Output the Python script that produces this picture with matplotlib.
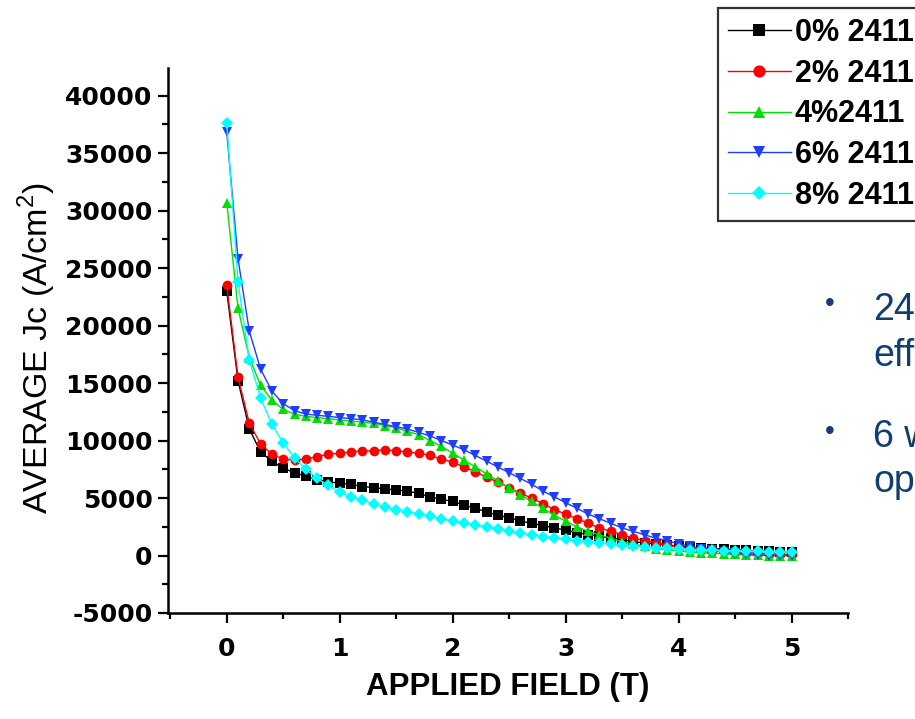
import numpy as np
import matplotlib
matplotlib.use("Agg")
import matplotlib.pyplot as plt
from matplotlib.ticker import MultipleLocator

# ---- data ----
field = [round(0.1 * i, 1) for i in range(51)]

jc_0 = [23000, 15200, 11000, 9000, 8200, 7600, 7200, 6900, 6600, 6400,
        6300, 6200, 6000, 5900, 5800, 5700, 5600, 5400, 5100, 4900,
        4700, 4400, 4100, 3800, 3500, 3300, 3000, 2800, 2600, 2400,
        2200, 2000, 1800, 1700, 1500, 1400, 1200, 1100, 1000, 900,
        800, 700, 650, 600, 550, 500, 450, 400, 350, 300, 300]
jc_2 = [23500, 15500, 11500, 9700, 8800, 8400, 8300, 8400, 8600, 8800,
        8900, 9000, 9100, 9100, 9200, 9100, 9000, 8900, 8700, 8400,
        8100, 7700, 7300, 6800, 6400, 5900, 5400, 5000, 4500, 4000,
        3600, 3200, 2800, 2400, 2100, 1800, 1500, 1300, 1100, 900,
        700, 600, 500, 400, 350, 300, 250, 200, 150, 100, 100]
jc_4 = [30700, 21500, 17200, 14800, 13500, 12700, 12300, 12100, 12000, 11900,
        11800, 11700, 11600, 11500, 11300, 11100, 10800, 10500, 10000, 9500,
        8900, 8300, 7700, 7100, 6500, 5900, 5300, 4700, 4100, 3500,
        3000, 2500, 2100, 1800, 1500, 1200, 1000, 800, 600, 500,
        400, 300, 250, 200, 150, 100, 50, 50, 0, 0, 0]
jc_6 = [36800, 25800, 19500, 16200, 14300, 13200, 12600, 12300, 12200, 12100,
        12000, 11900, 11800, 11600, 11400, 11200, 11000, 10700, 10400, 10000,
        9600, 9200, 8700, 8200, 7700, 7200, 6700, 6200, 5600, 5100,
        4600, 4100, 3600, 3200, 2800, 2400, 2100, 1800, 1500, 1300,
        1000, 800, 600, 450, 300, 200, 100, 50, 0, 0, 0]
jc_8 = [37600, 23800, 17000, 13700, 11400, 9800, 8500, 7500, 6700, 6100,
        5500, 5100, 4800, 4500, 4200, 4000, 3800, 3600, 3400, 3200,
        3000, 2800, 2650, 2500, 2300, 2100, 1950, 1800, 1650, 1530,
        1400, 1300, 1200, 1100, 1000, 900, 820, 750, 680, 620,
        560, 520, 480, 450, 420, 400, 380, 360, 340, 320, 300]

labels = ["0% 2411", "2% 2411", "4%2411", "6% 2411", "8% 2411"]
series = [jc_0, jc_2, jc_4, jc_6, jc_8]
colors = ["#000000", "#FF0000", "#00E000", "#1F3CFF", "#00FFFF"]
markers = ["s", "o", "^", "v", "D"]
msizes = [6.5, 7, 7, 7, 6]

x_ticks = [0, 1, 2, 3, 4, 5]
y_ticks = [-5000, 0, 5000, 10000, 15000, 20000, 25000, 30000, 35000, 40000]

plt.rcParams['font.family'] = ['Liberation Sans', 'DejaVu Sans']
plt.rcParams['axes.unicode_minus'] = False

W, H = 915, 719
fig = plt.figure(figsize=(W / 100, H / 100), dpi=100)
ax = fig.add_axes([168 / W, 1 - 613 / H, (848 - 168) / W, (613 - 68) / H])

handles = []
for y, c, m, ms, lab in zip(series, colors, markers, msizes, labels):
    h, = ax.plot(field, y, color=c, marker=m, markersize=ms, linewidth=1.0,
                 markeredgewidth=0, label=lab)
    handles.append(h)

ax.set_xlim(-0.52, 5.5)
ax.set_ylim(-5000, 42400)
ax.set_xticks(x_ticks)
ax.set_yticks(y_ticks)
ax.xaxis.set_minor_locator(MultipleLocator(0.5))
ax.yaxis.set_minor_locator(MultipleLocator(2500))
ax.tick_params(which='major', direction='out', length=7, width=1.6, pad=4)
ax.tick_params(which='minor', direction='out', length=4.5, width=1.6)
ax.tick_params(axis='x', pad=10)
tick_font = {'family': 'DejaVu Sans', 'weight': 'bold', 'size': 18}
ax.set_xticklabels([str(v) for v in x_ticks], fontdict=tick_font)
ax.set_yticklabels([str(v) for v in y_ticks], fontdict=tick_font)
for s in ['top', 'right']:
    ax.spines[s].set_visible(False)
for s in ['left', 'bottom']:
    ax.spines[s].set_linewidth(1.8)

ax.set_xlabel("APPLIED FIELD (T)", fontsize=22.5, fontweight='bold', labelpad=8)
ax.set_ylabel("AVERAGE Jc (A/cm$^\\mathregular{2}$)", fontsize=24.5,
              ha='center', va='center')
ax.yaxis.set_label_coords((37 - 168) / 680, (613 - 348) / 545)

leg = ax.legend(handles=handles, loc='upper left',
                bbox_to_anchor=(718 / W, 1 - 8 / H), bbox_transform=fig.transFigure,
                frameon=True, fancybox=False, edgecolor='black',
                prop={'family': 'Liberation Sans', 'weight': 'bold', 'size': 22},
                handlelength=2.05, handletextpad=0.13, labelspacing=0.35,
                borderpad=0.33, borderaxespad=0, markerscale=1.25)
leg.get_frame().set_linewidth(1.6)

txt_color = '#103E6E'
fig.text(830 / W, 1 - 304 / H, "•", fontsize=20, color=txt_color, ha='center', va='center')
fig.text(873 / W, 1 - 320 / H, "24", fontsize=27, color=txt_color, va='baseline')
fig.text(873 / W, 1 - 366 / H, "eff", fontsize=27, color=txt_color, va='baseline')
fig.text(830 / W, 1 - 432 / H, "•", fontsize=20, color=txt_color, ha='center', va='center')
fig.text(873 / W, 1 - 447 / H, "6 w", fontsize=27, color=txt_color, va='baseline')
fig.text(873 / W, 1 - 492 / H, "op", fontsize=27, color=txt_color, va='baseline')

fig.savefig("out.png", dpi=100)
